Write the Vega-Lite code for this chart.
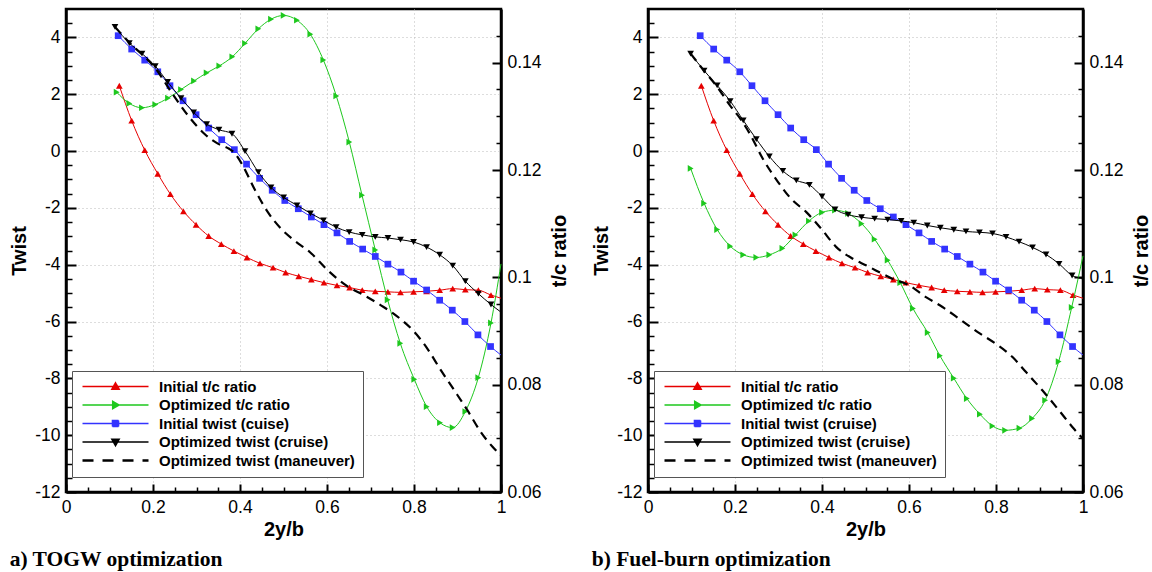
{
  "$schema": "https://vega.github.io/schema/vega-lite/v6.json",
  "padding": {"left": 8, "top": 7, "right": 0, "bottom": 0},
  "background": "white",
  "spacing": 19,
  "config": {
    "view": {"stroke": "black", "strokeWidth": 2.5},
    "font": "Liberation Sans",
    "axis": {
      "domainColor": "black", "domainWidth": 2.5, "tickColor": "black",
      "labelFont": "Liberation Sans", "labelFontSize": 17.5, "labelColor": "black",
      "titleFont": "Liberation Sans", "titleFontSize": 20, "titleFontWeight": "bold", "titleColor": "black",
      "labelFlush": false, "labelOverlap": false, "gridColor": "#bbbbbb", "gridDash": [1, 3], "gridWidth": 1
    }
  },
  "datasets": {
    "a": [
      {"series": "Initial t/c ratio", "x": 0.1226, "v": 0.1357}, {"series": "Initial t/c ratio", "x": 0.151, "v": 0.1292}, {"series": "Initial t/c ratio", "x": 0.181, "v": 0.1237}, {"series": "Initial t/c ratio", "x": 0.211, "v": 0.1193}, {"series": "Initial t/c ratio", "x": 0.24, "v": 0.1155}, {"series": "Initial t/c ratio", "x": 0.27, "v": 0.1123}, {"series": "Initial t/c ratio", "x": 0.299, "v": 0.1098}, {"series": "Initial t/c ratio", "x": 0.328, "v": 0.1077}, {"series": "Initial t/c ratio", "x": 0.357, "v": 0.1062}, {"series": "Initial t/c ratio", "x": 0.386, "v": 0.1049}, {"series": "Initial t/c ratio", "x": 0.416, "v": 0.1037}, {"series": "Initial t/c ratio", "x": 0.446, "v": 0.1026}, {"series": "Initial t/c ratio", "x": 0.476, "v": 0.1018}, {"series": "Initial t/c ratio", "x": 0.505, "v": 0.1009}, {"series": "Initial t/c ratio", "x": 0.535, "v": 0.1002}, {"series": "Initial t/c ratio", "x": 0.564, "v": 0.0996}, {"series": "Initial t/c ratio", "x": 0.593, "v": 0.099}, {"series": "Initial t/c ratio", "x": 0.623, "v": 0.0985}, {"series": "Initial t/c ratio", "x": 0.652, "v": 0.0981}, {"series": "Initial t/c ratio", "x": 0.681, "v": 0.0976}, {"series": "Initial t/c ratio", "x": 0.711, "v": 0.0974}, {"series": "Initial t/c ratio", "x": 0.74, "v": 0.0973}, {"series": "Initial t/c ratio", "x": 0.769, "v": 0.0972}, {"series": "Initial t/c ratio", "x": 0.799, "v": 0.0973}, {"series": "Initial t/c ratio", "x": 0.829, "v": 0.0974}, {"series": "Initial t/c ratio", "x": 0.859, "v": 0.0976}, {"series": "Initial t/c ratio", "x": 0.889, "v": 0.0979}, {"series": "Initial t/c ratio", "x": 0.918, "v": 0.0977}, {"series": "Initial t/c ratio", "x": 0.948, "v": 0.0976}, {"series": "Initial t/c ratio", "x": 0.977, "v": 0.0967}, {"series": "Initial t/c ratio", "x": 1.0, "v": 0.0961},
      {"series": "Optimized t/c ratio", "x": 0.1165, "v": 0.1345}, {"series": "Optimized t/c ratio", "x": 0.1456, "v": 0.1324}, {"series": "Optimized t/c ratio", "x": 0.1747, "v": 0.1316}, {"series": "Optimized t/c ratio", "x": 0.2053, "v": 0.1322}, {"series": "Optimized t/c ratio", "x": 0.2345, "v": 0.1334}, {"series": "Optimized t/c ratio", "x": 0.2644, "v": 0.135}, {"series": "Optimized t/c ratio", "x": 0.2943, "v": 0.1366}, {"series": "Optimized t/c ratio", "x": 0.3234, "v": 0.1381}, {"series": "Optimized t/c ratio", "x": 0.3525, "v": 0.1394}, {"series": "Optimized t/c ratio", "x": 0.3824, "v": 0.1411}, {"series": "Optimized t/c ratio", "x": 0.4115, "v": 0.1436}, {"series": "Optimized t/c ratio", "x": 0.4421, "v": 0.1463}, {"series": "Optimized t/c ratio", "x": 0.4713, "v": 0.1481}, {"series": "Optimized t/c ratio", "x": 0.5004, "v": 0.1488}, {"series": "Optimized t/c ratio", "x": 0.531, "v": 0.1479}, {"series": "Optimized t/c ratio", "x": 0.5617, "v": 0.1453}, {"series": "Optimized t/c ratio", "x": 0.5916, "v": 0.1405}, {"series": "Optimized t/c ratio", "x": 0.6214, "v": 0.1338}, {"series": "Optimized t/c ratio", "x": 0.6513, "v": 0.1252}, {"series": "Optimized t/c ratio", "x": 0.6805, "v": 0.1153}, {"series": "Optimized t/c ratio", "x": 0.711, "v": 0.1051}, {"series": "Optimized t/c ratio", "x": 0.7395, "v": 0.0958}, {"series": "Optimized t/c ratio", "x": 0.7685, "v": 0.0877}, {"series": "Optimized t/c ratio", "x": 0.8007, "v": 0.081}, {"series": "Optimized t/c ratio", "x": 0.8292, "v": 0.0759}, {"series": "Optimized t/c ratio", "x": 0.8598, "v": 0.0729}, {"series": "Optimized t/c ratio", "x": 0.8889, "v": 0.072}, {"series": "Optimized t/c ratio", "x": 0.918, "v": 0.075}, {"series": "Optimized t/c ratio", "x": 0.9478, "v": 0.0813}, {"series": "Optimized t/c ratio", "x": 0.977, "v": 0.0915}, {"series": "Optimized t/c ratio", "x": 1.0, "v": 0.1025},
      {"series": "Initial twist (cuise)", "x": 0.12, "v": 4.06}, {"series": "Initial twist (cuise)", "x": 0.151, "v": 3.59}, {"series": "Initial twist (cuise)", "x": 0.181, "v": 3.2}, {"series": "Initial twist (cuise)", "x": 0.211, "v": 2.79}, {"series": "Initial twist (cuise)", "x": 0.239, "v": 2.3}, {"series": "Initial twist (cuise)", "x": 0.269, "v": 1.77}, {"series": "Initial twist (cuise)", "x": 0.299, "v": 1.28}, {"series": "Initial twist (cuise)", "x": 0.328, "v": 0.81}, {"series": "Initial twist (cuise)", "x": 0.358, "v": 0.4}, {"series": "Initial twist (cuise)", "x": 0.387, "v": 0.05}, {"series": "Initial twist (cuise)", "x": 0.415, "v": -0.46}, {"series": "Initial twist (cuise)", "x": 0.445, "v": -0.96}, {"series": "Initial twist (cuise)", "x": 0.474, "v": -1.38}, {"series": "Initial twist (cuise)", "x": 0.503, "v": -1.74}, {"series": "Initial twist (cuise)", "x": 0.534, "v": -2.03}, {"series": "Initial twist (cuise)", "x": 0.564, "v": -2.32}, {"series": "Initial twist (cuise)", "x": 0.593, "v": -2.59}, {"series": "Initial twist (cuise)", "x": 0.623, "v": -2.88}, {"series": "Initial twist (cuise)", "x": 0.652, "v": -3.18}, {"series": "Initial twist (cuise)", "x": 0.682, "v": -3.45}, {"series": "Initial twist (cuise)", "x": 0.711, "v": -3.71}, {"series": "Initial twist (cuise)", "x": 0.74, "v": -3.98}, {"series": "Initial twist (cuise)", "x": 0.77, "v": -4.26}, {"series": "Initial twist (cuise)", "x": 0.799, "v": -4.58}, {"series": "Initial twist (cuise)", "x": 0.829, "v": -4.89}, {"series": "Initial twist (cuise)", "x": 0.859, "v": -5.25}, {"series": "Initial twist (cuise)", "x": 0.888, "v": -5.6}, {"series": "Initial twist (cuise)", "x": 0.917, "v": -6.0}, {"series": "Initial twist (cuise)", "x": 0.947, "v": -6.47}, {"series": "Initial twist (cuise)", "x": 0.976, "v": -6.88}, {"series": "Initial twist (cuise)", "x": 1.0, "v": -7.18},
      {"series": "Optimized twist (cruise)", "x": 0.1126, "v": 4.37}, {"series": "Optimized twist (cruise)", "x": 0.1456, "v": 3.8}, {"series": "Optimized twist (cruise)", "x": 0.1747, "v": 3.43}, {"series": "Optimized twist (cruise)", "x": 0.2053, "v": 2.99}, {"series": "Optimized twist (cruise)", "x": 0.2337, "v": 2.43}, {"series": "Optimized twist (cruise)", "x": 0.2644, "v": 1.86}, {"series": "Optimized twist (cruise)", "x": 0.2935, "v": 1.36}, {"series": "Optimized twist (cruise)", "x": 0.3234, "v": 0.95}, {"series": "Optimized twist (cruise)", "x": 0.3517, "v": 0.75}, {"series": "Optimized twist (cruise)", "x": 0.3816, "v": 0.61}, {"series": "Optimized twist (cruise)", "x": 0.4115, "v": 0.0}, {"series": "Optimized twist (cruise)", "x": 0.4421, "v": -0.74}, {"series": "Optimized twist (cruise)", "x": 0.4713, "v": -1.28}, {"series": "Optimized twist (cruise)", "x": 0.5004, "v": -1.63}, {"series": "Optimized twist (cruise)", "x": 0.531, "v": -1.91}, {"series": "Optimized twist (cruise)", "x": 0.562, "v": -2.19}, {"series": "Optimized twist (cruise)", "x": 0.592, "v": -2.44}, {"series": "Optimized twist (cruise)", "x": 0.621, "v": -2.68}, {"series": "Optimized twist (cruise)", "x": 0.651, "v": -2.85}, {"series": "Optimized twist (cruise)", "x": 0.681, "v": -2.95}, {"series": "Optimized twist (cruise)", "x": 0.711, "v": -3.02}, {"series": "Optimized twist (cruise)", "x": 0.74, "v": -3.06}, {"series": "Optimized twist (cruise)", "x": 0.769, "v": -3.12}, {"series": "Optimized twist (cruise)", "x": 0.799, "v": -3.2}, {"series": "Optimized twist (cruise)", "x": 0.829, "v": -3.38}, {"series": "Optimized twist (cruise)", "x": 0.859, "v": -3.65}, {"series": "Optimized twist (cruise)", "x": 0.889, "v": -4.03}, {"series": "Optimized twist (cruise)", "x": 0.918, "v": -4.58}, {"series": "Optimized twist (cruise)", "x": 0.948, "v": -5.02}, {"series": "Optimized twist (cruise)", "x": 0.977, "v": -5.4}, {"series": "Optimized twist (cruise)", "x": 1.0, "v": -5.67},
      {"series": "Optimized twist (maneuver)", "x": 0.1126, "v": 4.37}, {"series": "Optimized twist (maneuver)", "x": 0.15, "v": 3.75}, {"series": "Optimized twist (maneuver)", "x": 0.18, "v": 3.33}, {"series": "Optimized twist (maneuver)", "x": 0.205, "v": 2.92}, {"series": "Optimized twist (maneuver)", "x": 0.241, "v": 2.1}, {"series": "Optimized twist (maneuver)", "x": 0.28, "v": 1.26}, {"series": "Optimized twist (maneuver)", "x": 0.318, "v": 0.61}, {"series": "Optimized twist (maneuver)", "x": 0.349, "v": 0.26}, {"series": "Optimized twist (maneuver)", "x": 0.375, "v": 0.08}, {"series": "Optimized twist (maneuver)", "x": 0.387, "v": -0.06}, {"series": "Optimized twist (maneuver)", "x": 0.406, "v": -0.5}, {"series": "Optimized twist (maneuver)", "x": 0.433, "v": -1.33}, {"series": "Optimized twist (maneuver)", "x": 0.464, "v": -2.15}, {"series": "Optimized twist (maneuver)", "x": 0.496, "v": -2.76}, {"series": "Optimized twist (maneuver)", "x": 0.525, "v": -3.15}, {"series": "Optimized twist (maneuver)", "x": 0.561, "v": -3.56}, {"series": "Optimized twist (maneuver)", "x": 0.602, "v": -4.2}, {"series": "Optimized twist (maneuver)", "x": 0.648, "v": -4.77}, {"series": "Optimized twist (maneuver)", "x": 0.686, "v": -5.08}, {"series": "Optimized twist (maneuver)", "x": 0.724, "v": -5.43}, {"series": "Optimized twist (maneuver)", "x": 0.759, "v": -5.79}, {"series": "Optimized twist (maneuver)", "x": 0.801, "v": -6.37}, {"series": "Optimized twist (maneuver)", "x": 0.831, "v": -6.96}, {"series": "Optimized twist (maneuver)", "x": 0.862, "v": -7.72}, {"series": "Optimized twist (maneuver)", "x": 0.893, "v": -8.43}, {"series": "Optimized twist (maneuver)", "x": 0.923, "v": -9.13}, {"series": "Optimized twist (maneuver)", "x": 0.954, "v": -9.9}, {"series": "Optimized twist (maneuver)", "x": 0.98, "v": -10.4}, {"series": "Optimized twist (maneuver)", "x": 1.0, "v": -10.72}
    ],
    "b": [
      {"series": "Initial t/c ratio", "x": 0.1226, "v": 0.1357}, {"series": "Initial t/c ratio", "x": 0.151, "v": 0.1292}, {"series": "Initial t/c ratio", "x": 0.181, "v": 0.1237}, {"series": "Initial t/c ratio", "x": 0.211, "v": 0.1193}, {"series": "Initial t/c ratio", "x": 0.24, "v": 0.1155}, {"series": "Initial t/c ratio", "x": 0.27, "v": 0.1123}, {"series": "Initial t/c ratio", "x": 0.299, "v": 0.1098}, {"series": "Initial t/c ratio", "x": 0.328, "v": 0.1077}, {"series": "Initial t/c ratio", "x": 0.357, "v": 0.1062}, {"series": "Initial t/c ratio", "x": 0.386, "v": 0.1049}, {"series": "Initial t/c ratio", "x": 0.416, "v": 0.1037}, {"series": "Initial t/c ratio", "x": 0.446, "v": 0.1026}, {"series": "Initial t/c ratio", "x": 0.476, "v": 0.1018}, {"series": "Initial t/c ratio", "x": 0.505, "v": 0.1009}, {"series": "Initial t/c ratio", "x": 0.535, "v": 0.1002}, {"series": "Initial t/c ratio", "x": 0.564, "v": 0.0996}, {"series": "Initial t/c ratio", "x": 0.593, "v": 0.099}, {"series": "Initial t/c ratio", "x": 0.623, "v": 0.0985}, {"series": "Initial t/c ratio", "x": 0.652, "v": 0.0981}, {"series": "Initial t/c ratio", "x": 0.681, "v": 0.0976}, {"series": "Initial t/c ratio", "x": 0.711, "v": 0.0974}, {"series": "Initial t/c ratio", "x": 0.74, "v": 0.0973}, {"series": "Initial t/c ratio", "x": 0.769, "v": 0.0972}, {"series": "Initial t/c ratio", "x": 0.799, "v": 0.0973}, {"series": "Initial t/c ratio", "x": 0.829, "v": 0.0974}, {"series": "Initial t/c ratio", "x": 0.859, "v": 0.0976}, {"series": "Initial t/c ratio", "x": 0.889, "v": 0.0979}, {"series": "Initial t/c ratio", "x": 0.918, "v": 0.0977}, {"series": "Initial t/c ratio", "x": 0.948, "v": 0.0976}, {"series": "Initial t/c ratio", "x": 0.977, "v": 0.0967}, {"series": "Initial t/c ratio", "x": 1.0, "v": 0.0961},
      {"series": "Optimized t/c ratio", "x": 0.098, "v": 0.1203}, {"series": "Optimized t/c ratio", "x": 0.129, "v": 0.1138}, {"series": "Optimized t/c ratio", "x": 0.159, "v": 0.1089}, {"series": "Optimized t/c ratio", "x": 0.189, "v": 0.1058}, {"series": "Optimized t/c ratio", "x": 0.219, "v": 0.1042}, {"series": "Optimized t/c ratio", "x": 0.249, "v": 0.1037}, {"series": "Optimized t/c ratio", "x": 0.279, "v": 0.1042}, {"series": "Optimized t/c ratio", "x": 0.309, "v": 0.1054}, {"series": "Optimized t/c ratio", "x": 0.339, "v": 0.1079}, {"series": "Optimized t/c ratio", "x": 0.37, "v": 0.1105}, {"series": "Optimized t/c ratio", "x": 0.4, "v": 0.1121}, {"series": "Optimized t/c ratio", "x": 0.43, "v": 0.1125}, {"series": "Optimized t/c ratio", "x": 0.46, "v": 0.1119}, {"series": "Optimized t/c ratio", "x": 0.491, "v": 0.11}, {"series": "Optimized t/c ratio", "x": 0.521, "v": 0.1071}, {"series": "Optimized t/c ratio", "x": 0.551, "v": 0.1032}, {"series": "Optimized t/c ratio", "x": 0.58, "v": 0.099}, {"series": "Optimized t/c ratio", "x": 0.609, "v": 0.0942}, {"series": "Optimized t/c ratio", "x": 0.643, "v": 0.0897}, {"series": "Optimized t/c ratio", "x": 0.671, "v": 0.0854}, {"series": "Optimized t/c ratio", "x": 0.703, "v": 0.0812}, {"series": "Optimized t/c ratio", "x": 0.733, "v": 0.0774}, {"series": "Optimized t/c ratio", "x": 0.763, "v": 0.0745}, {"series": "Optimized t/c ratio", "x": 0.792, "v": 0.0723}, {"series": "Optimized t/c ratio", "x": 0.821, "v": 0.0715}, {"series": "Optimized t/c ratio", "x": 0.854, "v": 0.0719}, {"series": "Optimized t/c ratio", "x": 0.883, "v": 0.0737}, {"series": "Optimized t/c ratio", "x": 0.913, "v": 0.0771}, {"series": "Optimized t/c ratio", "x": 0.944, "v": 0.0843}, {"series": "Optimized t/c ratio", "x": 0.974, "v": 0.0944}, {"series": "Optimized t/c ratio", "x": 1.0, "v": 0.104},
      {"series": "Initial twist (cruise)", "x": 0.12, "v": 4.06}, {"series": "Initial twist (cruise)", "x": 0.151, "v": 3.59}, {"series": "Initial twist (cruise)", "x": 0.181, "v": 3.2}, {"series": "Initial twist (cruise)", "x": 0.211, "v": 2.79}, {"series": "Initial twist (cruise)", "x": 0.239, "v": 2.3}, {"series": "Initial twist (cruise)", "x": 0.269, "v": 1.77}, {"series": "Initial twist (cruise)", "x": 0.299, "v": 1.28}, {"series": "Initial twist (cruise)", "x": 0.328, "v": 0.81}, {"series": "Initial twist (cruise)", "x": 0.358, "v": 0.4}, {"series": "Initial twist (cruise)", "x": 0.387, "v": 0.05}, {"series": "Initial twist (cruise)", "x": 0.415, "v": -0.46}, {"series": "Initial twist (cruise)", "x": 0.445, "v": -0.96}, {"series": "Initial twist (cruise)", "x": 0.474, "v": -1.38}, {"series": "Initial twist (cruise)", "x": 0.503, "v": -1.74}, {"series": "Initial twist (cruise)", "x": 0.534, "v": -2.03}, {"series": "Initial twist (cruise)", "x": 0.564, "v": -2.32}, {"series": "Initial twist (cruise)", "x": 0.593, "v": -2.59}, {"series": "Initial twist (cruise)", "x": 0.623, "v": -2.88}, {"series": "Initial twist (cruise)", "x": 0.652, "v": -3.18}, {"series": "Initial twist (cruise)", "x": 0.682, "v": -3.45}, {"series": "Initial twist (cruise)", "x": 0.711, "v": -3.71}, {"series": "Initial twist (cruise)", "x": 0.74, "v": -3.98}, {"series": "Initial twist (cruise)", "x": 0.77, "v": -4.26}, {"series": "Initial twist (cruise)", "x": 0.799, "v": -4.58}, {"series": "Initial twist (cruise)", "x": 0.829, "v": -4.89}, {"series": "Initial twist (cruise)", "x": 0.859, "v": -5.25}, {"series": "Initial twist (cruise)", "x": 0.888, "v": -5.6}, {"series": "Initial twist (cruise)", "x": 0.917, "v": -6.0}, {"series": "Initial twist (cruise)", "x": 0.947, "v": -6.47}, {"series": "Initial twist (cruise)", "x": 0.976, "v": -6.88}, {"series": "Initial twist (cruise)", "x": 1.0, "v": -7.18},
      {"series": "Optimized twist (cruise)", "x": 0.098, "v": 3.43}, {"series": "Optimized twist (cruise)", "x": 0.129, "v": 2.83}, {"series": "Optimized twist (cruise)", "x": 0.159, "v": 2.31}, {"series": "Optimized twist (cruise)", "x": 0.189, "v": 1.76}, {"series": "Optimized twist (cruise)", "x": 0.219, "v": 1.08}, {"series": "Optimized twist (cruise)", "x": 0.249, "v": 0.42}, {"series": "Optimized twist (cruise)", "x": 0.279, "v": -0.19}, {"series": "Optimized twist (cruise)", "x": 0.31, "v": -0.7}, {"series": "Optimized twist (cruise)", "x": 0.341, "v": -1.03}, {"series": "Optimized twist (cruise)", "x": 0.371, "v": -1.19}, {"series": "Optimized twist (cruise)", "x": 0.4, "v": -1.6}, {"series": "Optimized twist (cruise)", "x": 0.43, "v": -2.05}, {"series": "Optimized twist (cruise)", "x": 0.46, "v": -2.24}, {"series": "Optimized twist (cruise)", "x": 0.491, "v": -2.33}, {"series": "Optimized twist (cruise)", "x": 0.521, "v": -2.38}, {"series": "Optimized twist (cruise)", "x": 0.551, "v": -2.41}, {"series": "Optimized twist (cruise)", "x": 0.582, "v": -2.46}, {"series": "Optimized twist (cruise)", "x": 0.611, "v": -2.52}, {"series": "Optimized twist (cruise)", "x": 0.642, "v": -2.62}, {"series": "Optimized twist (cruise)", "x": 0.672, "v": -2.7}, {"series": "Optimized twist (cruise)", "x": 0.703, "v": -2.77}, {"series": "Optimized twist (cruise)", "x": 0.731, "v": -2.83}, {"series": "Optimized twist (cruise)", "x": 0.762, "v": -2.86}, {"series": "Optimized twist (cruise)", "x": 0.792, "v": -2.9}, {"series": "Optimized twist (cruise)", "x": 0.823, "v": -3.02}, {"series": "Optimized twist (cruise)", "x": 0.853, "v": -3.19}, {"series": "Optimized twist (cruise)", "x": 0.884, "v": -3.39}, {"series": "Optimized twist (cruise)", "x": 0.915, "v": -3.64}, {"series": "Optimized twist (cruise)", "x": 0.945, "v": -3.97}, {"series": "Optimized twist (cruise)", "x": 0.975, "v": -4.38}, {"series": "Optimized twist (cruise)", "x": 1.0, "v": -4.5},
      {"series": "Optimized twist (maneuver)", "x": 0.098, "v": 3.43}, {"series": "Optimized twist (maneuver)", "x": 0.129, "v": 2.82}, {"series": "Optimized twist (maneuver)", "x": 0.159, "v": 2.26}, {"series": "Optimized twist (maneuver)", "x": 0.188, "v": 1.62}, {"series": "Optimized twist (maneuver)", "x": 0.214, "v": 1.1}, {"series": "Optimized twist (maneuver)", "x": 0.234, "v": 0.61}, {"series": "Optimized twist (maneuver)", "x": 0.264, "v": -0.27}, {"series": "Optimized twist (maneuver)", "x": 0.299, "v": -1.09}, {"series": "Optimized twist (maneuver)", "x": 0.329, "v": -1.68}, {"series": "Optimized twist (maneuver)", "x": 0.364, "v": -2.15}, {"series": "Optimized twist (maneuver)", "x": 0.398, "v": -2.73}, {"series": "Optimized twist (maneuver)", "x": 0.433, "v": -3.38}, {"series": "Optimized twist (maneuver)", "x": 0.471, "v": -3.79}, {"series": "Optimized twist (maneuver)", "x": 0.501, "v": -4.02}, {"series": "Optimized twist (maneuver)", "x": 0.563, "v": -4.5}, {"series": "Optimized twist (maneuver)", "x": 0.601, "v": -4.73}, {"series": "Optimized twist (maneuver)", "x": 0.639, "v": -5.14}, {"series": "Optimized twist (maneuver)", "x": 0.677, "v": -5.49}, {"series": "Optimized twist (maneuver)", "x": 0.716, "v": -5.91}, {"series": "Optimized twist (maneuver)", "x": 0.758, "v": -6.37}, {"series": "Optimized twist (maneuver)", "x": 0.8, "v": -6.79}, {"series": "Optimized twist (maneuver)", "x": 0.838, "v": -7.25}, {"series": "Optimized twist (maneuver)", "x": 0.869, "v": -7.78}, {"series": "Optimized twist (maneuver)", "x": 0.907, "v": -8.43}, {"series": "Optimized twist (maneuver)", "x": 0.945, "v": -9.13}, {"series": "Optimized twist (maneuver)", "x": 0.976, "v": -9.72}, {"series": "Optimized twist (maneuver)", "x": 1.0, "v": -10.13}
    ]
  },
  "resolve": {"scale": {"color": "independent"}, "legend": {"color": "independent"}},
  "hconcat": [
    {
      "width": 435, "height": 483,
      "data": {"name": "a"},
      "title": {"text": "a) TOGW optimization", "orient": "bottom", "anchor": "start", "font": "Liberation Serif", "fontSize": 21.5, "fontWeight": "bold", "color": "black", "offset": 9},
      "encoding": {
        "x": {"field": "x", "type": "quantitative", "scale": {"domain": [0, 1], "nice": false, "zero": false},
          "axis": {"title": "2y/b", "values": [0, 0.05, 0.1, 0.15, 0.2, 0.25, 0.3, 0.35, 0.4, 0.45, 0.5, 0.55, 0.6, 0.65, 0.7, 0.75, 0.8, 0.85, 0.9, 0.95, 1],
            "labelExpr": "abs(datum.value * 5 - round(datum.value * 5)) < 0.000001 ? '' + datum.value : ''",
            "tickSize": {"condition": {"test": "abs(datum.value * 5 - round(datum.value * 5)) < 0.000001", "value": -8}, "value": -5},
            "tickWidth": {"condition": {"test": "abs(datum.value * 5 - round(datum.value * 5)) < 0.000001", "value": 2}, "value": 1.5},
            "labelPadding": 14, "titlePadding": 1, "grid": true,
            "gridOpacity": {"condition": {"test": "abs(datum.value * 5 - round(datum.value * 5)) < 0.000001 && datum.value > 0.01 && datum.value < 0.99", "value": 1}, "value": 0}}},
        "color": {"field": "series", "type": "nominal",
          "scale": {"domain": ["Initial t/c ratio", "Optimized t/c ratio", "Initial twist (cuise)", "Optimized twist (cruise)", "Optimized twist (maneuver)"], "range": ["#e60000", "#1ec81e", "#3333ff", "black", "black"]},
          "legend": {"title": null, "orient": "none", "legendX": 6, "legendY": 362, "direction": "vertical", "padding": 8, "strokeColor": "#555555", "fillColor": "white",
            "labelFont": "Liberation Sans", "labelFontWeight": "bold", "labelFontSize": 15, "labelColor": "black", "labelLimit": 400,
            "labelOffset": 36, "symbolOffset": 28, "symbolSize": 100, "rowPadding": 2.5,
            "encode": {"symbols": {"update": {
              "shape": {"signal": "datum.value === 'Initial t/c ratio' ? 'M-6.6,0L6.6,0M0,-0.72L0.72,0.55L-0.72,0.55Z' : datum.value === 'Optimized t/c ratio' ? 'M-6.6,0L6.6,0M-0.55,-0.72L0.72,0L-0.55,0.72Z' : datum.value === 'Optimized twist (maneuver)' ? 'M-6.6,0L6.6,0' : datum.value === 'Optimized twist (cruise)' ? 'M-6.6,0L6.6,0M-0.72,-0.55L0.72,-0.55L0,0.72Z' : 'M-6.6,0L6.6,0M-0.6,-0.6L0.6,-0.6L0.6,0.6L-0.6,0.6Z'"},
              "stroke": {"signal": "datum.value === 'Initial t/c ratio' ? '#e60000' : datum.value === 'Optimized t/c ratio' ? '#1ec81e' : (datum.value === 'Optimized twist (maneuver)' || datum.value === 'Optimized twist (cruise)') ? 'black' : '#3333ff'"},
              "fill": {"signal": "datum.value === 'Initial t/c ratio' ? '#e60000' : datum.value === 'Optimized t/c ratio' ? '#1ec81e' : (datum.value === 'Optimized twist (maneuver)' || datum.value === 'Optimized twist (cruise)') ? 'black' : '#3333ff'"},
              "strokeDash": {"signal": "datum.value === 'Optimized twist (maneuver)' ? [11, 9] : [1, 0]"},
              "strokeWidth": {"signal": "datum.value === 'Optimized twist (maneuver)' ? 2.5 : 1.6"},
              "opacity": {"value": 1}}}}}}
      },
      "layer": [
        {
          "encoding": {"y": {"field": "v", "type": "quantitative", "scale": {"domain": [0.06, 0.15], "nice": false, "zero": false},
            "axis": {"orient": "right", "title": "t/c ratio", "titleAngle": -90, "titlePadding": 28,
              "values": [0.06, 0.065, 0.07, 0.075, 0.08, 0.085, 0.09, 0.095, 0.1, 0.105, 0.11, 0.115, 0.12, 0.125, 0.13, 0.135, 0.14, 0.145],
              "labelExpr": "abs(datum.value * 50 - round(datum.value * 50)) < 0.000001 ? '' + datum.value : ''",
              "tickSize": {"condition": {"test": "abs(datum.value * 50 - round(datum.value * 50)) < 0.000001", "value": -9}, "value": -5},
              "tickWidth": {"condition": {"test": "abs(datum.value * 50 - round(datum.value * 50)) < 0.000001", "value": 2}, "value": 1.5},
              "labelPadding": 15, "grid": false}}},
          "layer": [
            {"transform": [{"filter": "datum.series === 'Initial t/c ratio'"}], "mark": {"type": "line", "interpolate": "monotone", "strokeWidth": 1}},
            {"transform": [{"filter": "datum.series === 'Initial t/c ratio' && datum.x < 0.999"}], "mark": {"type": "point", "shape": "triangle-up", "filled": true, "size": 45, "opacity": 1}},
            {"transform": [{"filter": "datum.series === 'Optimized t/c ratio'"}], "mark": {"type": "line", "interpolate": "monotone", "strokeWidth": 1}},
            {"transform": [{"filter": "datum.series === 'Optimized t/c ratio' && datum.x < 0.999"}], "mark": {"type": "point", "shape": "triangle-right", "filled": true, "size": 45, "opacity": 1}}
          ]
        },
        {
          "encoding": {"y": {"field": "v", "type": "quantitative", "scale": {"domain": [-12, 5], "nice": false, "zero": false},
            "axis": {"orient": "left", "title": "Twist", "titlePadding": 5,
              "values": [-12, -11.5, -11, -10.5, -10, -9.5, -9, -8.5, -8, -7.5, -7, -6.5, -6, -5.5, -5, -4.5, -4, -3.5, -3, -2.5, -2, -1.5, -1, -0.5, 0, 0.5, 1, 1.5, 2, 2.5, 3, 3.5, 4, 4.5],
              "labelExpr": "datum.value % 2 === 0 ? '' + datum.value : ''",
              "tickSize": {"condition": {"test": "datum.value % 2 === 0", "value": -10}, "value": -6},
              "tickWidth": {"condition": {"test": "datum.value % 2 === 0", "value": 2}, "value": 1.5},
              "labelPadding": 16, "grid": true,
              "gridOpacity": {"condition": {"test": "datum.value % 2 === 0 && datum.value > -11", "value": 1}, "value": 0}}}},
          "layer": [
            {"transform": [{"filter": "datum.series === 'Initial twist (cuise)'"}], "mark": {"type": "line", "interpolate": "monotone", "strokeWidth": 1}},
            {"transform": [{"filter": "datum.series === 'Initial twist (cuise)' && datum.x < 0.999"}], "mark": {"type": "point", "shape": "square", "filled": true, "size": 45, "opacity": 1}},
            {"transform": [{"filter": "datum.series === 'Optimized twist (cruise)'"}], "mark": {"type": "line", "interpolate": "monotone", "strokeWidth": 1}},
            {"transform": [{"filter": "datum.series === 'Optimized twist (cruise)' && datum.x < 0.999"}], "mark": {"type": "point", "shape": "triangle-down", "filled": true, "size": 45, "opacity": 1}},
            {"transform": [{"filter": "datum.series === 'Optimized twist (maneuver)'"}], "mark": {"type": "line", "interpolate": "monotone", "strokeWidth": 2.2, "strokeDash": [9, 6]}}
          ]
        }
      ],
      "resolve": {"scale": {"y": "independent"}}
    },
    {
      "width": 435, "height": 483,
      "data": {"name": "b"},
      "title": {"text": "b) Fuel-burn optimization", "orient": "bottom", "anchor": "start", "font": "Liberation Serif", "fontSize": 21.5, "fontWeight": "bold", "color": "black", "offset": 9},
      "encoding": {
        "x": {"field": "x", "type": "quantitative", "scale": {"domain": [0, 1], "nice": false, "zero": false},
          "axis": {"title": "2y/b", "values": [0, 0.05, 0.1, 0.15, 0.2, 0.25, 0.3, 0.35, 0.4, 0.45, 0.5, 0.55, 0.6, 0.65, 0.7, 0.75, 0.8, 0.85, 0.9, 0.95, 1],
            "labelExpr": "abs(datum.value * 5 - round(datum.value * 5)) < 0.000001 ? '' + datum.value : ''",
            "tickSize": {"condition": {"test": "abs(datum.value * 5 - round(datum.value * 5)) < 0.000001", "value": -8}, "value": -5},
            "tickWidth": {"condition": {"test": "abs(datum.value * 5 - round(datum.value * 5)) < 0.000001", "value": 2}, "value": 1.5},
            "labelPadding": 14, "titlePadding": 1, "grid": true,
            "gridOpacity": {"condition": {"test": "abs(datum.value * 5 - round(datum.value * 5)) < 0.000001 && datum.value > 0.01 && datum.value < 0.99", "value": 1}, "value": 0}}},
        "color": {"field": "series", "type": "nominal",
          "scale": {"domain": ["Initial t/c ratio", "Optimized t/c ratio", "Initial twist (cruise)", "Optimized twist (cruise)", "Optimized twist (maneuver)"], "range": ["#e60000", "#1ec81e", "#3333ff", "black", "black"]},
          "legend": {"title": null, "orient": "none", "legendX": 6, "legendY": 362, "direction": "vertical", "padding": 8, "strokeColor": "#555555", "fillColor": "white",
            "labelFont": "Liberation Sans", "labelFontWeight": "bold", "labelFontSize": 15, "labelColor": "black", "labelLimit": 400,
            "labelOffset": 36, "symbolOffset": 28, "symbolSize": 100, "rowPadding": 2.5,
            "encode": {"symbols": {"update": {
              "shape": {"signal": "datum.value === 'Initial t/c ratio' ? 'M-6.6,0L6.6,0M0,-0.72L0.72,0.55L-0.72,0.55Z' : datum.value === 'Optimized t/c ratio' ? 'M-6.6,0L6.6,0M-0.55,-0.72L0.72,0L-0.55,0.72Z' : datum.value === 'Optimized twist (maneuver)' ? 'M-6.6,0L6.6,0' : datum.value === 'Optimized twist (cruise)' ? 'M-6.6,0L6.6,0M-0.72,-0.55L0.72,-0.55L0,0.72Z' : 'M-6.6,0L6.6,0M-0.6,-0.6L0.6,-0.6L0.6,0.6L-0.6,0.6Z'"},
              "stroke": {"signal": "datum.value === 'Initial t/c ratio' ? '#e60000' : datum.value === 'Optimized t/c ratio' ? '#1ec81e' : (datum.value === 'Optimized twist (maneuver)' || datum.value === 'Optimized twist (cruise)') ? 'black' : '#3333ff'"},
              "fill": {"signal": "datum.value === 'Initial t/c ratio' ? '#e60000' : datum.value === 'Optimized t/c ratio' ? '#1ec81e' : (datum.value === 'Optimized twist (maneuver)' || datum.value === 'Optimized twist (cruise)') ? 'black' : '#3333ff'"},
              "strokeDash": {"signal": "datum.value === 'Optimized twist (maneuver)' ? [11, 9] : [1, 0]"},
              "strokeWidth": {"signal": "datum.value === 'Optimized twist (maneuver)' ? 2.5 : 1.6"},
              "opacity": {"value": 1}}}}}}
      },
      "layer": [
        {
          "encoding": {"y": {"field": "v", "type": "quantitative", "scale": {"domain": [0.06, 0.15], "nice": false, "zero": false},
            "axis": {"orient": "right", "title": "t/c ratio", "titleAngle": -90, "titlePadding": 28,
              "values": [0.06, 0.065, 0.07, 0.075, 0.08, 0.085, 0.09, 0.095, 0.1, 0.105, 0.11, 0.115, 0.12, 0.125, 0.13, 0.135, 0.14, 0.145],
              "labelExpr": "abs(datum.value * 50 - round(datum.value * 50)) < 0.000001 ? '' + datum.value : ''",
              "tickSize": {"condition": {"test": "abs(datum.value * 50 - round(datum.value * 50)) < 0.000001", "value": -9}, "value": -5},
              "tickWidth": {"condition": {"test": "abs(datum.value * 50 - round(datum.value * 50)) < 0.000001", "value": 2}, "value": 1.5},
              "labelPadding": 15, "grid": false}}},
          "layer": [
            {"transform": [{"filter": "datum.series === 'Initial t/c ratio'"}], "mark": {"type": "line", "interpolate": "monotone", "strokeWidth": 1}},
            {"transform": [{"filter": "datum.series === 'Initial t/c ratio' && datum.x < 0.999"}], "mark": {"type": "point", "shape": "triangle-up", "filled": true, "size": 45, "opacity": 1}},
            {"transform": [{"filter": "datum.series === 'Optimized t/c ratio'"}], "mark": {"type": "line", "interpolate": "monotone", "strokeWidth": 1}},
            {"transform": [{"filter": "datum.series === 'Optimized t/c ratio' && datum.x < 0.999"}], "mark": {"type": "point", "shape": "triangle-right", "filled": true, "size": 45, "opacity": 1}}
          ]
        },
        {
          "encoding": {"y": {"field": "v", "type": "quantitative", "scale": {"domain": [-12, 5], "nice": false, "zero": false},
            "axis": {"orient": "left", "title": "Twist", "titlePadding": 5,
              "values": [-12, -11.5, -11, -10.5, -10, -9.5, -9, -8.5, -8, -7.5, -7, -6.5, -6, -5.5, -5, -4.5, -4, -3.5, -3, -2.5, -2, -1.5, -1, -0.5, 0, 0.5, 1, 1.5, 2, 2.5, 3, 3.5, 4, 4.5],
              "labelExpr": "datum.value % 2 === 0 ? '' + datum.value : ''",
              "tickSize": {"condition": {"test": "datum.value % 2 === 0", "value": -10}, "value": -6},
              "tickWidth": {"condition": {"test": "datum.value % 2 === 0", "value": 2}, "value": 1.5},
              "labelPadding": 16, "grid": true,
              "gridOpacity": {"condition": {"test": "datum.value % 2 === 0 && datum.value > -11", "value": 1}, "value": 0}}}},
          "layer": [
            {"transform": [{"filter": "datum.series === 'Initial twist (cruise)'"}], "mark": {"type": "line", "interpolate": "monotone", "strokeWidth": 1}},
            {"transform": [{"filter": "datum.series === 'Initial twist (cruise)' && datum.x < 0.999"}], "mark": {"type": "point", "shape": "square", "filled": true, "size": 45, "opacity": 1}},
            {"transform": [{"filter": "datum.series === 'Optimized twist (cruise)'"}], "mark": {"type": "line", "interpolate": "monotone", "strokeWidth": 1}},
            {"transform": [{"filter": "datum.series === 'Optimized twist (cruise)' && datum.x < 0.999"}], "mark": {"type": "point", "shape": "triangle-down", "filled": true, "size": 45, "opacity": 1}},
            {"transform": [{"filter": "datum.series === 'Optimized twist (maneuver)'"}], "mark": {"type": "line", "interpolate": "monotone", "strokeWidth": 2.2, "strokeDash": [9, 6]}}
          ]
        }
      ],
      "resolve": {"scale": {"y": "independent"}}
    }
  ]
}
